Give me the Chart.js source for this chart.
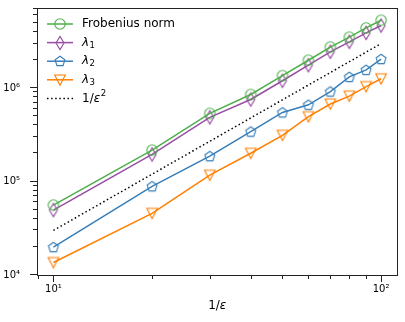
<!DOCTYPE html>
<html><head><meta charset="utf-8">
<script src="https://cdn.jsdelivr.net/npm/chart.js@4/dist/chart.umd.min.js"></script>
<style>html,body{margin:0;padding:0;background:#fff}#wrap{width:405px;height:322px}</style>
</head><body><div id="wrap"><canvas id="c" width="405" height="322"></canvas></div>
<script>
const invEps    = [10, 20, 30, 40, 50, 60, 70, 80, 90, 100];
const frobenius = [5.6e4, 2.17e5, 5.37e5, 8.55e5, 1.36e6, 1.99e6, 2.75e6, 3.51e6, 4.41e6, 5.33e6];
const lambda1   = [4.95e4, 1.95e5, 4.87e5, 7.56e5, 1.2e6, 1.76e6, 2.45e6, 3.13e6, 3.9e6, 4.68e6];
const lambda2   = [1.99e4, 8.9e4, 1.87e5, 3.43e5, 5.5e5, 6.64e5, 9.2e5, 1.32e6, 1.57e6, 2.05e6];
const lambda3   = [1.36e4, 4.57e4, 1.17e5, 2.01e5, 3.13e5, 4.95e5, 6.76e5, 8.22e5, 1.04e6, 1.26e6];
const refLine   = [3e4, 1.2e5, 2.7e5, 4.8e5, 7.5e5, 1.08e6, 1.47e6, 1.92e6, 2.43e6, 3e6];
const xTickValues = [10, 100];
const yTickValues = [1e4, 1e5, 1e6];
const xTickLabels = ['10¹', '10²'];
const yTickLabels = ['10⁴', '10⁵', '10⁶'];

const FONT = "'DejaVu Sans'";
const COLORS = {green:'#4daf4a', purple:'#984ea3', blue:'#377eb8', orange:'#ff7f00', black:'#000000'};

function markerCanvas(kind, color){
  const s = 18, c = document.createElement('canvas');
  c.width = s; c.height = s;
  const g = c.getContext('2d');
  g.strokeStyle = color; g.lineWidth = 1.1;
  g.translate(s/2, s/2);
  g.beginPath();
  if (kind === 'circle') { g.arc(0, 0, 5.2, 0, Math.PI*2); }
  else if (kind === 'thin') { g.moveTo(0,-6.6); g.lineTo(4,0); g.lineTo(0,6.6); g.lineTo(-4,0); g.closePath(); }
  else if (kind === 'pent') {
    const r = 5.2;
    for (let i=0;i<5;i++){ const a=-Math.PI/2+i*2*Math.PI/5; const x=r*Math.cos(a), y=r*Math.sin(a)+0.4; i?g.lineTo(x,y):g.moveTo(x,y); }
    g.closePath();
  }
  else if (kind === 'tri') { g.moveTo(-5.3,-5); g.lineTo(5.3,-5); g.lineTo(0,5.3); g.closePath(); }
  g.stroke();
  return c;
}

const pts = arr => invEps.map((x,i)=>({x, y: arr[i]}));
const mk = {
  frob: markerCanvas('circle', COLORS.green),
  l1: markerCanvas('thin', COLORS.purple),
  l2: markerCanvas('pent', COLORS.blue),
  l3: markerCanvas('tri', COLORS.orange)
};

const datasets = [
  {label:'Frobenius norm', data: pts(frobenius), borderColor: COLORS.green, pointStyle: mk.frob, legendParts:[{t:'Frobenius norm'}]},
  {label:'λ1', data: pts(lambda1), borderColor: COLORS.purple, pointStyle: mk.l1, legendParts:[{t:'λ',it:true},{t:'1',sub:true}]},
  {label:'λ2', data: pts(lambda2), borderColor: COLORS.blue, pointStyle: mk.l2, legendParts:[{t:'λ',it:true},{t:'2',sub:true}]},
  {label:'λ3', data: pts(lambda3), borderColor: COLORS.orange, pointStyle: mk.l3, legendParts:[{t:'λ',it:true},{t:'3',sub:true}]},
  {label:'1/ε²', data: pts(refLine), borderColor: COLORS.black, pointStyle: false, pointRadius: 0, borderDash:[1.5,2.6], legendParts:[{t:'1/'},{t:'ε',it:true},{t:'2',sup:true}]}
].map(d => Object.assign({borderWidth:1.5, backgroundColor:'transparent', fill:false, tension:0, pointRadius:6, pointHoverRadius:6}, d));

function drawParts(ctx, parts, x, y){
  for (const p of parts){
    let size = 12, dy = 0;
    if (p.sub){ size = 8.5; dy = 3; }
    if (p.sup){ size = 8.5; dy = -5; }
    ctx.font = (p.it ? 'italic ' : '') + size + 'px ' + FONT;
    ctx.fillText(p.t, x, y + dy);
    x += ctx.measureText(p.t).width + (p.it ? 0.5 : 0);
  }
}

const framePlugin = {
  id:'frame',
  afterDraw(chart){
    const ctx = chart.ctx, a = chart.chartArea;
    const xs = chart.scales.x, ys = chart.scales.y;
    ctx.save();
    ctx.strokeStyle = '#222'; ctx.lineWidth = 1;
    ctx.strokeRect(Math.round(a.left)+0.5, Math.round(a.top)+0.5, Math.round(a.right-a.left)-1, Math.round(a.bottom-a.top)-1);
    for (let d=0; d<=3; d++) for (let m=1; m<=9; m++){
      const v = m*Math.pow(10,d);
      if (v < xs.min || v > xs.max) continue;
      const px = Math.round(xs.getPixelForValue(v))+0.5;
      const len = m===1 ? 7 : 4;
      ctx.beginPath(); ctx.moveTo(px, Math.round(a.bottom)); ctx.lineTo(px, Math.round(a.bottom)+len); ctx.stroke();
    }
    for (let d=3; d<=7; d++) for (let m=1; m<=9; m++){
      const v = m*Math.pow(10,d);
      if (v < ys.min*0.999 || v > ys.max) continue;
      const py = Math.round(ys.getPixelForValue(v))-0.5;
      const len = m===1 ? 7 : 4;
      ctx.beginPath(); ctx.moveTo(Math.round(a.left), py); ctx.lineTo(Math.round(a.left)-len, py); ctx.stroke();
    }
    ctx.fillStyle = '#000'; ctx.textBaseline = 'middle'; ctx.textAlign = 'left';
    const tparts = [{t:'1/'},{t:'ε',it:true}];
    ctx.font = '12px ' + FONT; let w = ctx.measureText('1/').width;
    ctx.font = 'italic 12px ' + FONT; w += ctx.measureText('ε').width;
    drawParts(ctx, tparts, (a.left+a.right)/2 - w/2, 306);
    const hx0 = 47, hx1 = 73, tx = 82, y0 = 24, dyRow = 18.6;
    chart.data.datasets.forEach((ds, i) => {
      const y = y0 + i*dyRow;
      ctx.save();
      ctx.strokeStyle = ds.borderColor; ctx.lineWidth = ds.borderWidth;
      if (ds.borderDash) ctx.setLineDash(ds.borderDash);
      ctx.beginPath(); ctx.moveTo(hx0, y); ctx.lineTo(hx1, y); ctx.stroke();
      ctx.restore();
      if (ds.pointStyle){ const c = ds.pointStyle; ctx.drawImage(c, Math.round((hx0+hx1)/2 - c.width/2), Math.round(y - c.height/2)); }
      ctx.fillStyle = '#000'; ctx.textBaseline = 'middle';
      drawParts(ctx, ds.legendParts, tx, y);
    });
    ctx.restore();
  }
};

function zeroPad(s){ s.paddingTop = 0; s.paddingBottom = 0; s.paddingLeft = 0; s.paddingRight = 0; }

new Chart(document.getElementById('c'), {
  type:'line',
  data:{datasets},
  options:{
    responsive:false, animation:false, devicePixelRatio:1,
    layout:{padding:{top:6, right:6, left:0, bottom:0}},
    plugins:{legend:{display:false}, tooltip:{enabled:false}},
    scales:{
      x:{type:'logarithmic', min:8.91, max:112.2,
         grid:{display:false, drawTicks:false}, border:{display:false},
         afterBuildTicks: s => { s.ticks = xTickValues.map(v=>({value:v})); },
         afterFit: s => { s.height = 47; zeroPad(s); },
         ticks:{color:'#000', padding:8, font:{family:'DejaVu Sans', size:10}, maxRotation:0, autoSkip:false,
                callback:(v)=>{ const i = xTickValues.indexOf(v); return i>=0 ? xTickLabels[i] : ''; }}},
      y:{type:'logarithmic', min:1e4, max:7.3e6,
         grid:{display:false, drawTicks:false}, border:{display:false},
         afterBuildTicks: s => { s.ticks = yTickValues.map(v=>({value:v})); },
         afterFit: s => { s.width = 37; zeroPad(s); },
         ticks:{color:'#000', padding:17, font:{family:'DejaVu Sans', size:10}, autoSkip:false,
                callback:(v)=>{ const i = yTickValues.indexOf(v); return i>=0 ? yTickLabels[i] : ''; }}}
    }
  },
  plugins:[framePlugin]
});
</script></body></html>
